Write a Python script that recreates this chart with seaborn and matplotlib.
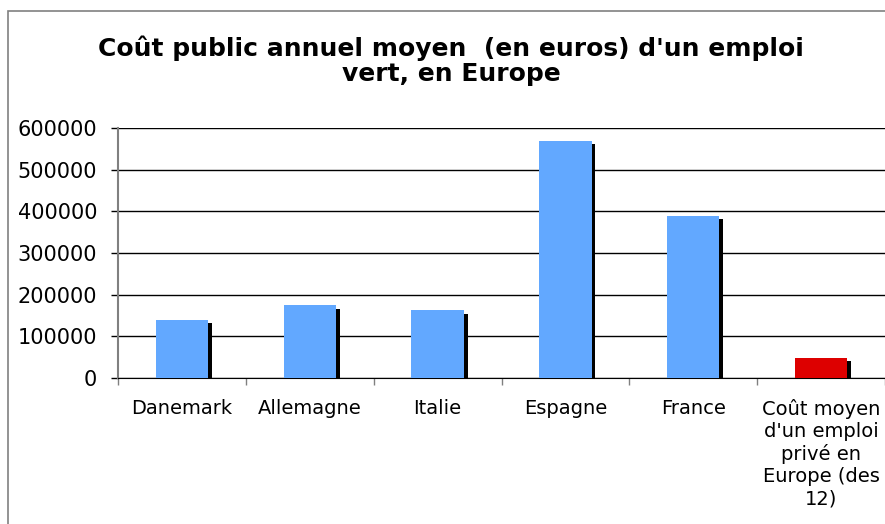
import numpy as np
import matplotlib
matplotlib.use("Agg")
import matplotlib.pyplot as plt
import matplotlib.patheffects as pe
from matplotlib.patches import Rectangle
import seaborn as sns

# Données
categories = ["Danemark", "Allemagne", "Italie", "Espagne", "France",
              "Coût moyen\nd'un emploi\nprivé en\nEurope (des\n12)"]
valeurs = [140000, 175000, 163000, 570000, 390000, 48000]
couleurs = ["#62A8FF", "#62A8FF", "#62A8FF", "#62A8FF", "#62A8FF", "#DD0000"]
yticks = [0, 100000, 200000, 300000, 400000, 500000, 600000]

sns.set_style("white")
plt.rcParams["font.family"] = ["DejaVu Sans"]
plt.rcParams["text.color"] = "black"
plt.rcParams["xtick.color"] = "black"
plt.rcParams["ytick.color"] = "black"

fig = plt.figure(figsize=(8.85, 5.24), dpi=100)
ax = fig.add_axes([118 / 885, 146 / 524, 1 - 118 / 885, 250 / 524])

# cadre gris autour du graphique
fig.patches.append(Rectangle((8 / 885, -0.1), 1.2, 1.1 - 11 / 524, transform=fig.transFigure,
                             fill=False, edgecolor="#808080", linewidth=1.2, zorder=0))

sns.barplot(x=categories, y=valeurs, hue=categories, palette=couleurs,
            legend=False, width=0.41, saturation=1, linewidth=0, edgecolor="none",
            ax=ax, zorder=3)

# ombre portée noire
for bar in ax.patches:
    bar.set_path_effects([pe.SimplePatchShadow(offset=(2.7, -2.5), shadow_rgbFace="black", alpha=1),
                          pe.Normal()])

ax.set_ylim(0, 600000)
ax.set_xlim(-0.5, 5.5)
ax.set_yticks(yticks)
ax.set_yticklabels([str(v) for v in yticks], fontsize=15)
ax.yaxis.grid(True, color="black", linewidth=1)
ax.set_axisbelow(True)
ax.tick_params(axis="y", length=5, width=1, color="black", pad=10, left=True)

ax.set_xticks(np.arange(-0.5, 6, 1))
ax.set_xticklabels([])
ax.tick_params(axis="x", which="major", length=5, width=1, color="#808080", bottom=True)
ax.set_xticks(range(6), minor=True)
ax.set_xticklabels(categories, minor=True, fontsize=14, linespacing=1.2, va="top")
ax.tick_params(axis="x", which="minor", length=0, pad=15)

for s in ["top", "right"]:
    ax.spines[s].set_visible(False)
ax.spines["left"].set_color("#808080")
ax.spines["left"].set_linewidth(1.5)
ax.spines["bottom"].set_color("black")
ax.set_xlabel("")
ax.set_ylabel("")

fig.text(451 / 885, 1 - 61 / 524, "Coût public annuel moyen  (en euros) d'un emploi\nvert, en Europe",
         ha="center", va="center", fontsize=18, fontweight="bold", linespacing=1.05)

fig.savefig("out.png", dpi=100)
plt.close()
